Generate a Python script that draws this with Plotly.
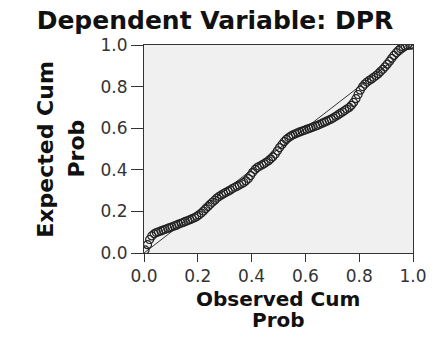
import plotly.graph_objects as go

# Data
observed_cum_prob = [
    0.004, 0.013, 0.021, 0.029, 0.038, 0.046, 0.054, 0.063, 0.071, 0.079,
    0.088, 0.096, 0.104, 0.113, 0.121, 0.129, 0.138, 0.146, 0.154, 0.163,
    0.171, 0.179, 0.188, 0.196, 0.204, 0.213, 0.221, 0.229, 0.238, 0.246,
    0.254, 0.263, 0.271, 0.279, 0.288, 0.296, 0.304, 0.313, 0.321, 0.329,
    0.338, 0.346, 0.354, 0.363, 0.371, 0.379, 0.388, 0.396, 0.404, 0.413,
    0.421, 0.429, 0.438, 0.446, 0.454, 0.463, 0.471, 0.479, 0.488, 0.496,
    0.504, 0.513, 0.521, 0.529, 0.538, 0.546, 0.554, 0.563, 0.571, 0.579,
    0.588, 0.596, 0.604, 0.613, 0.621, 0.629, 0.638, 0.646, 0.654, 0.663,
    0.671, 0.679, 0.688, 0.696, 0.704, 0.713, 0.721, 0.729, 0.738, 0.746,
    0.754, 0.763, 0.771, 0.779, 0.788, 0.796, 0.804, 0.813, 0.821, 0.829,
    0.838, 0.846, 0.854, 0.863, 0.871, 0.879, 0.888, 0.896, 0.904, 0.913,
    0.921, 0.929, 0.938, 0.946, 0.954, 0.963, 0.971, 0.979, 0.988, 0.996,
]
expected_cum_prob = [
    0.015, 0.040, 0.065, 0.082, 0.092, 0.098, 0.102, 0.106, 0.110, 0.114,
    0.118, 0.122, 0.126, 0.130, 0.134, 0.139, 0.143, 0.147, 0.152, 0.156,
    0.160, 0.165, 0.170, 0.176, 0.183, 0.192, 0.202, 0.213, 0.224, 0.234,
    0.244, 0.254, 0.264, 0.272, 0.279, 0.285, 0.291, 0.297, 0.303, 0.310,
    0.316, 0.321, 0.327, 0.333, 0.339, 0.347, 0.358, 0.372, 0.388, 0.402,
    0.411, 0.417, 0.423, 0.429, 0.436, 0.444, 0.453, 0.463, 0.476, 0.491,
    0.507, 0.522, 0.535, 0.546, 0.555, 0.562, 0.568, 0.573, 0.578, 0.582,
    0.586, 0.590, 0.594, 0.598, 0.602, 0.606, 0.610, 0.614, 0.619, 0.624,
    0.629, 0.634, 0.639, 0.644, 0.650, 0.657, 0.664, 0.671, 0.678, 0.685,
    0.692, 0.700, 0.710, 0.724, 0.742, 0.762, 0.783, 0.800, 0.812, 0.822,
    0.830, 0.837, 0.845, 0.853, 0.862, 0.872, 0.883, 0.895, 0.908, 0.922,
    0.936, 0.950, 0.963, 0.974, 0.983, 0.990, 0.995, 0.998, 0.999, 1.000,
]
diag_x = [0.0, 1.0]
diag_y = [0.0, 1.0]
tick_vals = [0.0, 0.2, 0.4, 0.6, 0.8, 1.0]
tick_text = ["0.0", "0.2", "0.4", "0.6", "0.8", "1.0"]

title_text = "Dependent Variable: DPR"
x_title_lines = ["Observed Cum", "Prob"]
y_title_lines = ["Expected Cum", "Prob"]

W, H = 439, 341
ML, MR, MT, MB = 144, 16, 45, 88
PW, PH = W - ML - MR, H - MT - MB

def px_x(x):
    return (x - ML) / PW

def px_y(y):
    return (H - MB - y) / PH

fig = go.Figure()
fig.add_trace(go.Scatter(
    x=diag_x, y=diag_y, mode="lines",
    line=dict(color="#333333", width=1), hoverinfo="skip", showlegend=False,
))
fig.add_trace(go.Scatter(
    x=observed_cum_prob, y=expected_cum_prob, mode="markers",
    marker=dict(symbol="circle-open", size=8, color="#222222",
                line=dict(color="#222222", width=1.2)),
    showlegend=False,
))

axis_common = dict(
    range=[0, 1], tickvals=tick_vals, ticktext=tick_text,
    ticks="outside", tickwidth=1, tickcolor="#333333",
    showline=True, mirror=True, linecolor="#333333", linewidth=1,
    showgrid=False, zeroline=False,
    tickfont=dict(family="DejaVu Sans", size=17, color="#333333"),
)
fig.update_xaxes(ticklen=8, **axis_common)
fig.update_yaxes(ticklen=12, **axis_common)

bold = dict(family="DejaVu Sans", color="#111111", weight="bold")
annotations = [
    dict(text=x_title_lines[0], x=px_x(283), y=px_y(299), font=dict(size=20, **bold)),
    dict(text=x_title_lines[1], x=px_x(283), y=px_y(320), font=dict(size=20, **bold)),
    dict(text=y_title_lines[0], x=px_x(41), y=px_y(149), textangle=-90, font=dict(size=22, **bold)),
    dict(text=y_title_lines[1], x=px_x(73), y=px_y(149), textangle=-90, font=dict(size=22, **bold)),
]
for a in annotations:
    a.update(xref="paper", yref="paper", showarrow=False, xanchor="center", yanchor="middle")

fig.update_layout(
    width=W, height=H,
    margin=dict(l=ML, r=MR, t=MT, b=MB, pad=0),
    paper_bgcolor="white", plot_bgcolor="#f0f0f0",
    title=dict(text=title_text, x=215 / W, xanchor="center", xref="container",
               y=1 - 20 / H, yanchor="middle", yref="container",
               font=dict(size=25, **bold)),
    annotations=annotations,
)

fig.write_html("out.html")
